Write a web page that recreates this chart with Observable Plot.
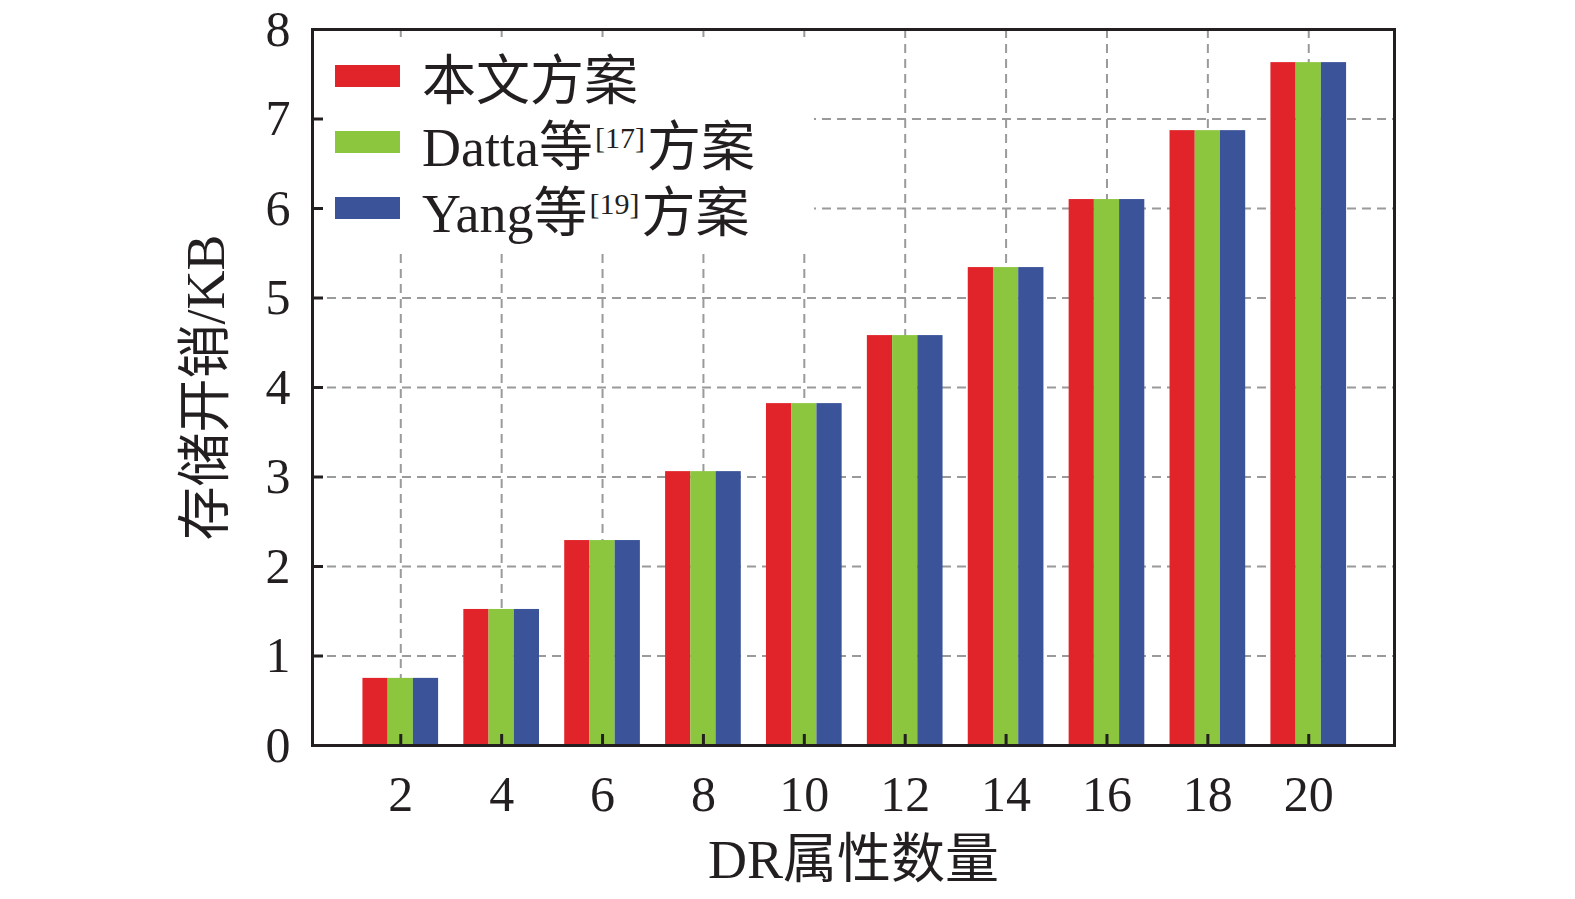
<!DOCTYPE html>
<html>
<head>
<meta charset="utf-8">
<script src="https://cdn.jsdelivr.net/npm/d3@7"></script>
<script src="https://cdn.jsdelivr.net/npm/@observablehq/plot@0.6"></script>
<style>
  html, body { margin: 0; padding: 0; background: #fff; }
  #wrap { position: relative; width: 1575px; height: 899px; font-family: "Liberation Serif", "Noto Sans CJK SC", serif; }
  #legend { position: absolute; left: 326px; top: 37px; width: 488px; height: 216px; background: #fff; }
  .row { position: absolute; left: 0; height: 64px; display: flex; align-items: center; font-size: 54px; color: #231f20; white-space: nowrap; }
  .sw { width: 65px; height: 22px; margin-left: 9px; margin-right: 22px; }
  sup { font-size: 30px; vertical-align: 0; position: relative; top: -18px; margin: 0 2px; }
</style>
</head>
<body>
<div id="wrap"></div>
<script>
const attrCounts = [2, 4, 6, 8, 10, 12, 14, 16, 18, 20];
const seriesNames = ["本文方案", "Datta等[17]方案", "Yang等[19]方案"];
const oursValues  = [0.75, 1.52, 2.29, 3.06, 3.82, 4.58, 5.34, 6.10, 6.87, 7.63];
const dattaValues = [0.75, 1.52, 2.29, 3.06, 3.82, 4.58, 5.34, 6.10, 6.87, 7.63];
const yangValues  = [0.75, 1.52, 2.29, 3.06, 3.82, 4.58, 5.34, 6.10, 6.87, 7.63];
const seriesColors = ["#e0242a", "#8cc63f", "#3a5399"];
const xTicks = [2, 4, 6, 8, 10, 12, 14, 16, 18, 20];
const yTicks = [0, 1, 2, 3, 4, 5, 6, 7, 8];
const xLabel = "DR属性数量";
const yLabel = "存储开销/KB";

const allValues = [oursValues, dattaValues, yangValues];
const groupOffsets = [-0.5, 0, 0.5];
const halfBar = 0.25;
const rows = [];
allValues.forEach((vals, si) => {
  vals.forEach((v, i) => {
    rows.push({n: attrCounts[i], s: seriesNames[si], si, v});
  });
});

const font = "Liberation Serif, Noto Sans CJK SC, serif";
const W = 1575, H = 899, mL = 312, mR = 181, mT = 29, mB = 154;
const tickLen = 11;

const chart = Plot.plot({
  width: W,
  height: H,
  marginLeft: mL,
  marginRight: mR,
  marginTop: mT,
  marginBottom: mB,
  style: {fontFamily: font, background: "#fff", color: "#231f20"},
  x: {domain: [0.25, 21.7], ticks: xTicks},
  y: {domain: [0, 8], ticks: yTicks},
  color: {domain: seriesNames, range: seriesColors},
  marks: [
    Plot.gridX(xTicks, {stroke: "#9a9a9a", strokeOpacity: 1, strokeWidth: 2, strokeDasharray: "9,6"}),
    Plot.gridY(yTicks.filter(d => d > 0), {stroke: "#9a9a9a", strokeOpacity: 1, strokeWidth: 2, strokeDasharray: "9,6"}),
    Plot.rectY(rows, {
      x1: d => d.n + groupOffsets[d.si] - halfBar,
      x2: d => d.n + groupOffsets[d.si] + halfBar,
      y1: 0,
      y2: "v",
      fill: "s"
    }),
    Plot.tickX(xTicks, {x: d => d, insetTop: (H - mT - mB) - tickLen, stroke: "#231f20", strokeWidth: 3}),
    Plot.tickY(yTicks, {y: d => d, insetRight: (W - mL - mR) - tickLen, stroke: "#231f20", strokeWidth: 3}),
    Plot.axisX(xTicks, {tickSize: 0, tickPadding: 30, fontSize: 50, label: null, fill: "#231f20", tickFormat: d => String(d)}),
    Plot.axisY(yTicks, {tickSize: 0, tickPadding: 22, fontSize: 50, label: null, fill: "#231f20", tickFormat: d => String(d)}),
    Plot.frame({stroke: "#231f20", strokeWidth: 3}),
    Plot.text([yLabel], {frameAnchor: "left", dx: -106, rotate: -90, textAnchor: "middle", fontSize: 54, fill: "#231f20"}),
    Plot.text([xLabel], {frameAnchor: "bottom", dy: 132, textAnchor: "middle", fontSize: 54, fill: "#231f20"})
  ]
});

const wrap = document.getElementById("wrap");
wrap.appendChild(chart);

const legend = document.createElement("div");
legend.id = "legend";
const rowTops = [7, 73, 139];
seriesNames.forEach((name, i) => {
  const row = document.createElement("div");
  row.className = "row";
  row.style.top = rowTops[i] + "px";
  const sw = document.createElement("div");
  sw.className = "sw";
  sw.style.background = seriesColors[i];
  row.appendChild(sw);
  const label = document.createElement("span");
  const m = name.match(/^(.*?)\[(\d+)\](.*)$/);
  if (m) {
    label.appendChild(document.createTextNode(m[1]));
    const sup = document.createElement("sup");
    sup.textContent = "[" + m[2] + "]";
    label.appendChild(sup);
    label.appendChild(document.createTextNode(m[3]));
  } else {
    label.textContent = name;
  }
  row.appendChild(label);
  legend.appendChild(row);
});
wrap.appendChild(legend);
</script>
</body>
</html>
